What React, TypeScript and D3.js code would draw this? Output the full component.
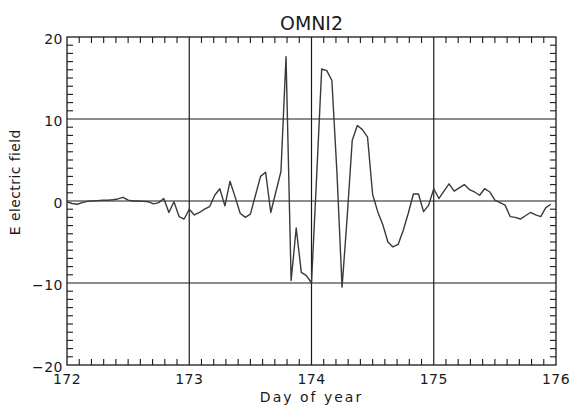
import React, { useEffect, useRef } from 'react'
import { select, scaleLinear, line, range } from 'd3'

// hourly OMNI2 E field, starting at day 172.0
const startDay = 172
const efield = [
  -0.1, -0.3, -0.4, -0.2, -0.05, 0, 0.05, 0.1, 0.1, 0.15, 0.25, 0.45,
  0.1, 0, 0, -0.05, -0.1, -0.35, -0.2, 0.3, -1.4, -0.1, -1.9, -2.2,
  -1.0, -1.7, -1.4, -1.0, -0.7, 0.7, 1.5, -0.6, 2.4, 0.5, -1.5, -2.0,
  -1.6, 0.7, 3.0, 3.5, -1.4, 1.1, 3.6, 17.6, -9.7, -3.3, -8.7, -9.1,
  -10.0, 2.9, 16.1, 15.9, 14.7, 3.4, -10.5, -2.0, 7.4, 9.2, 8.7, 7.8,
  0.8, -1.3, -2.9, -5.0, -5.6, -5.3, -3.6, -1.5, 0.85, 0.85, -1.3, -0.5,
  1.5, 0.3, 1.2, 2.1, 1.2, 1.6, 2.0, 1.4, 1.1, 0.7, 1.5, 1.1,
  0.1, -0.2, -0.5, -1.9, -2.0, -2.2, -1.8, -1.4, -1.7, -1.9, -0.8, -0.4,
]
const xTicks = [172, 173, 174, 175, 176]
const yTicks = [-20, -10, 0, 10, 20]
const title = 'OMNI2'
const xLabel = 'Day of year'
const yLabel = 'E electric field'

function Chart() {
  const svgRef = useRef(null)

  const width = 570,
    height = 407,
    margin = { top: 37, right: 14, bottom: 42, left: 67 }
  const innerW = width - margin.left - margin.right
  const innerH = height - margin.top - margin.bottom

  useEffect(() => {
    const root = select(svgRef.current)
    root.selectAll('*').remove()
    const svg = root.append('g').attr('transform', `translate(${margin.left}, ${margin.top})`)

    const xScale = scaleLinear().domain([172, 176]).range([0, innerW])
    const yScale = scaleLinear().domain([-20, 20]).range([innerH, 0])

    const ink = '#1a1a1a'
    const font = "'DejaVu Sans', sans-serif"

    // minor ticks, all four sides
    const xMinor = range(1, 40).map(i => 172 + i / 10).filter(d => Math.abs(d - Math.round(d)) > 1e-6)
    const yMinor = range(-19, 20).filter(d => d % 10 !== 0)
    const tl = 6

    const ticks = svg.append('g').attr('stroke', ink).attr('stroke-width', 1.1)
    xMinor.forEach(d => {
      ticks.append('line').attr('x1', xScale(d)).attr('x2', xScale(d)).attr('y1', 0).attr('y2', tl)
      ticks.append('line').attr('x1', xScale(d)).attr('x2', xScale(d)).attr('y1', innerH).attr('y2', innerH - tl)
    })
    yMinor.forEach(d => {
      ticks.append('line').attr('y1', yScale(d)).attr('y2', yScale(d)).attr('x1', 0).attr('x2', tl)
      ticks.append('line').attr('y1', yScale(d)).attr('y2', yScale(d)).attr('x1', innerW).attr('x2', innerW - tl)
    })

    // grid at major ticks
    const grid = svg.append('g').attr('stroke', ink).attr('stroke-width', 1.2)
    xTicks.slice(1, -1).forEach(d => {
      grid.append('line').attr('x1', xScale(d)).attr('x2', xScale(d)).attr('y1', 0).attr('y2', innerH)
    })
    yTicks.slice(1, -1).forEach(d => {
      grid.append('line').attr('y1', yScale(d)).attr('y2', yScale(d)).attr('x1', 0).attr('x2', innerW)
    })

    // frame
    svg.append('rect')
      .attr('width', innerW)
      .attr('height', innerH)
      .attr('fill', 'none')
      .attr('stroke', ink)
      .attr('stroke-width', 1.3)

    // the data
    const lineGenerator = line()
      .x((d, i) => xScale(startDay + i / 24))
      .y(d => yScale(d))

    svg.append('path')
      .datum(efield)
      .attr('fill', 'none')
      .attr('stroke', '#3a3a3a')
      .attr('stroke-width', 1.4)
      .attr('stroke-linejoin', 'round')
      .attr('d', lineGenerator)

    // tick labels
    xTicks.forEach(d => {
      svg.append('text')
        .attr('x', xScale(d))
        .attr('y', innerH + 19)
        .attr('text-anchor', 'middle')
        .attr('font-family', font)
        .attr('font-size', 14)
        .attr('letter-spacing', 0.5)
        .attr('fill', ink)
        .text(d)
    })
    yTicks.forEach(d => {
      svg.append('text')
        .attr('x', -4)
        .attr('y', yScale(d) + 6.5)
        .attr('text-anchor', 'end')
        .attr('font-family', font)
        .attr('font-size', 14)
        .attr('letter-spacing', 0.5)
        .attr('fill', ink)
        .text(d < 0 ? '\u2212' + Math.abs(d) : String(d))
    })

    // titles
    svg.append('text')
      .attr('x', innerW / 2)
      .attr('y', -7)
      .attr('text-anchor', 'middle')
      .attr('font-family', font)
      .attr('font-size', 20)
      .attr('fill', ink)
      .attr('textLength', 63)
      .attr('lengthAdjust', 'spacingAndGlyphs')
      .text(title)

    svg.append('text')
      .attr('x', innerW / 2)
      .attr('y', innerH + 36.5)
      .attr('text-anchor', 'middle')
      .attr('font-family', font)
      .attr('font-size', 14)
      .attr('letter-spacing', 2)
      .attr('fill', ink)
      .text(xLabel)

    svg.append('text')
      .attr('transform', `translate(${-47}, ${yScale(2.3)}) rotate(-90)`)
      .attr('text-anchor', 'middle')
      .attr('font-family', font)
      .attr('font-size', 14)
      .attr('letter-spacing', 0.4)
      .attr('fill', ink)
      .text(yLabel)
  }, [])

  return (
    <svg ref={svgRef} width={width} height={height} style={{ display: 'block', background: '#fff' }}></svg>
  )
}

export default function App() {
  return (
    <div>
      <style>{'body { margin: 0; }'}</style>
      <Chart />
    </div>
  )
}
